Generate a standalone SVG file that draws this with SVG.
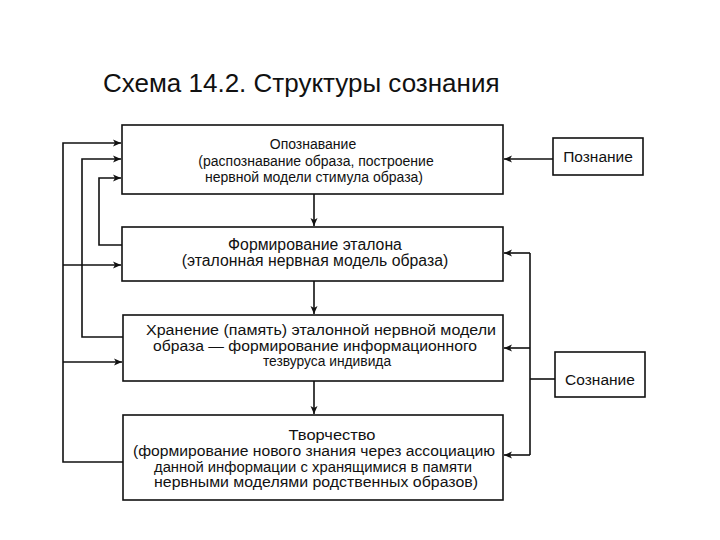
<svg xmlns="http://www.w3.org/2000/svg" width="720" height="540" viewBox="0 0 720 540">
<style>
.box{fill:#fff;stroke:#111;stroke-width:1.6}
.t{font-family:"Liberation Sans",Arial,sans-serif;font-size:14px;fill:#111;text-anchor:middle}
.t2{font-family:"Liberation Sans",Arial,sans-serif;font-size:15.8px;fill:#111;text-anchor:middle}
.t3{font-family:"Liberation Sans",Arial,sans-serif;font-size:13.8px;fill:#111;text-anchor:middle}
.side{font-family:"Liberation Sans",Arial,sans-serif;font-size:15.5px;fill:#111;text-anchor:middle}
.title{font-family:"Liberation Sans",Arial,sans-serif;font-size:26px;fill:#111}
.c{fill:none;stroke:#111;stroke-width:1.6}
</style>
<defs>
<marker id="ah" markerUnits="userSpaceOnUse" markerWidth="10" markerHeight="10" refX="9" refY="5" orient="auto">
<path d="M1,1.5 L9,5 L1,8.5 L3,5 z" fill="#111"/>
</marker>
</defs>
<rect width="720" height="540" fill="#fff"/>
<text class="title" x="103" y="92">Схема 14.2. Структуры сознания</text>
<g id="connectors">
<path class="c" d="M553,159 H504" marker-end="url(#ah)"/>
<path class="c" d="M314,194 V226" marker-end="url(#ah)"/>
<path class="c" d="M314,281 V314" marker-end="url(#ah)"/>
<path class="c" d="M314,381 V414" marker-end="url(#ah)"/>
<path class="c" d="M122,245 H99 V178 H121" marker-end="url(#ah)"/>
<path class="c" d="M123,337 H82 V159 H121" marker-end="url(#ah)"/>
<path class="c" d="M123,462 H63 V143 H121" marker-end="url(#ah)"/>
<path class="c" d="M63,265 H121" marker-end="url(#ah)"/>
<path class="c" d="M63,362 H122" marker-end="url(#ah)"/>
<path class="c" d="M555,379 H530"/>
<path class="c" d="M530,253 V455"/>
<path class="c" d="M530,253 H504" marker-end="url(#ah)"/>
<path class="c" d="M530,348 H504" marker-end="url(#ah)"/>
<path class="c" d="M530,455 H504" marker-end="url(#ah)"/>
</g>
<g id="opoznavanie">
<rect class="box" x="122" y="125" width="381" height="69"/>
<text class="t" x="313" y="149">Опознавание</text>
<text class="t" x="316" y="166">(распознавание образа, построение</text>
<text class="t" x="314" y="182">нервной модели стимула образа)</text>
</g>
<g id="formirovanie">
<rect class="box" x="122" y="227" width="381" height="54"/>
<text class="t2" x="315" y="250">Формирование эталона</text>
<text class="t2" x="315" y="266">(эталонная нервная модель образа)</text>
</g>
<g id="hranenie">
<rect class="box" x="123" y="315" width="380" height="66"/>
<text class="t3" x="321" y="335" textLength="350" lengthAdjust="spacingAndGlyphs">Хранение (память) эталонной нервной модели</text>
<text class="t3" x="315" y="350.5" textLength="324" lengthAdjust="spacingAndGlyphs">образа — формирование информационного</text>
<text class="t3" x="327" y="366">тезвуруса индивида</text>
</g>
<g id="tvorchestvo">
<rect class="box" x="123" y="415" width="380" height="85"/>
<text class="t3" x="332" y="440" textLength="87" lengthAdjust="spacingAndGlyphs">Творчество</text>
<text class="t3" x="314" y="456" textLength="362" lengthAdjust="spacingAndGlyphs">(формирование нового знания через ассоциацию</text>
<text class="t3" x="313" y="471.5" textLength="318" lengthAdjust="spacingAndGlyphs">данной информации с хранящимися в памяти</text>
<text class="t3" x="316" y="487" textLength="324" lengthAdjust="spacingAndGlyphs">нервными моделями родственных образов)</text>
</g>
<g id="poznanie">
<rect class="box" x="553" y="138" width="90" height="37"/>
<text class="side" x="598" y="162">Познание</text>
</g>
<g id="soznanie">
<rect class="box" x="555" y="352" width="90" height="45"/>
<text class="side" x="600" y="385">Сознание</text>
</g>
</svg>
